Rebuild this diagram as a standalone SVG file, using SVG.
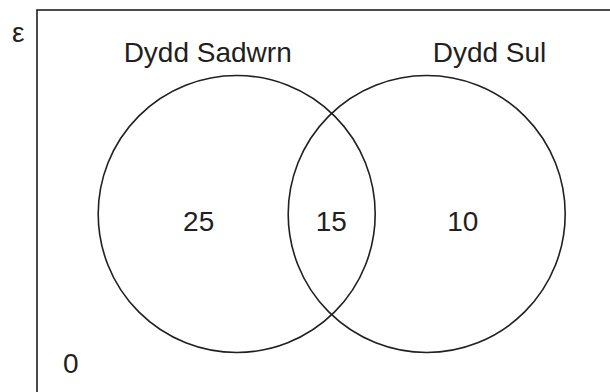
<svg xmlns="http://www.w3.org/2000/svg" width="610" height="392" viewBox="0 0 610 392">
<style>
.ln{fill:none;stroke:#231f20;stroke-width:1.6}
.t{font-family:"Liberation Sans",Arial,sans-serif;font-size:28px;fill:#231f20}
.m{text-anchor:middle}
</style>
<rect width="610" height="392" fill="#fff"/>
<g id="universe">
<rect class="ln" x="37" y="10" width="580" height="390"/>
<text class="t" x="12" y="42" style="font-size:28px">ε</text>
<text class="t" x="63" y="372.5">0</text>
</g>
<g id="sadwrn">
<circle class="ln" cx="236.7" cy="214" r="138.5"/>
<text class="t m" x="207.7" y="61.7">Dydd Sadwrn</text>
<text class="t m" x="198.7" y="231">25</text>
</g>
<g id="sul">
<circle class="ln" cx="426.7" cy="214" r="138.5"/>
<text class="t m" x="489.5" y="61.7">Dydd Sul</text>
<text class="t m" x="462.8" y="231">10</text>
</g>
<g id="both">
<text class="t m" x="331.3" y="231">15</text>
</g>
<g id="connectors"></g>
</svg>
